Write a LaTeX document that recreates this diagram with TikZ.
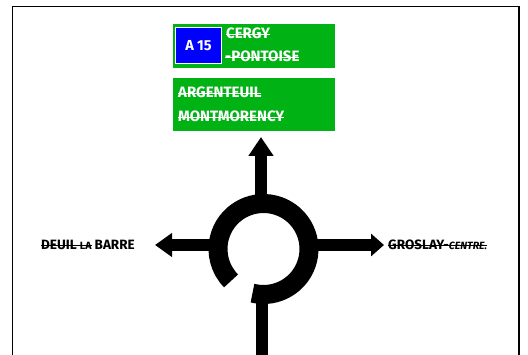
\documentclass[tikz,border=0pt]{standalone}
\usepackage{fontspec}
\setmainfont{Fira Sans}
\usetikzlibrary{arrows.meta}
\definecolor{signgreen}{RGB}{0,178,20}
\definecolor{signblue}{RGB}{0,0,255}
\newsavebox{\strkbox}
\newcommand{\strk}[1]{\sbox{\strkbox}{#1}\usebox{\strkbox}\llap{\rule[0.25em]{\wd\strkbox}{0.8pt}}}
\tikzset{
  panel/.style={fill=signgreen, draw=none, inner sep=0pt, minimum width=162pt, anchor=south west},
  signtext/.style={text=white, inner sep=0pt, anchor=base west, font=\fontsize{15}{17}\selectfont\bfseries},
  roadlabel/.style={text=black, inner sep=0pt, anchor=base west, font=\fontsize{13.5}{15}\selectfont\bfseries},
  shaft/.style={line width=12pt, line cap=butt, black},
}
\begin{document}
\begin{tikzpicture}[x=1pt,y=1pt]
\useasboundingbox (0,0) rectangle (528,354);
% frame
\draw[line width=1.5pt] (12.5,-2) -- (12.5,347.5) -- (519,347.5) -- (519,-2);
% signs
\node[panel, minimum height=44pt] (s1) at (173,286) {};
\node[panel, minimum height=53pt] (s2) at (173,223) {};
\node[fill=signblue, draw=white, line width=1pt, minimum width=46pt, minimum height=36pt, inner sep=0pt] (a15box) at (198.5,308.5) {};
\node[text=white, inner sep=0pt, anchor=base, font=\fontsize{14.5}{16}\selectfont\bfseries] (a15) at (198.5,303.3) {A 15};
\node[signtext] (cergy) at (226,315) {\strk{CERGY}};
\node[signtext] (pontoise) at (225,292) {\strk{-PONTOISE}};
\node[signtext] (argenteuil) at (178,256) {\strk{ARGENTEUIL}};
\node[signtext] (montmorency) at (178,232) {\strk{MONTMORENCY}};
% roundabout
\coordinate (c) at (263.5,105);
\draw[line width=19pt, line cap=butt] (c) ++(-104:45.5) arc[start angle=-104, end angle=224.5, radius=45.5];
% arms
\coordinate (topstart) at (261,150);
\coordinate (toptip) at (261,217);
\coordinate (botstart) at (261.5,-2);
\coordinate (botend) at (261.5,62);
\coordinate (leftstart) at (215,109);
\coordinate (lefttip) at (155,109);
\coordinate (rightstart) at (312,109);
\coordinate (righttip) at (384,109);
\draw[shaft, -{Triangle[length=19pt, width=24pt]}] (topstart) -- (toptip);
\draw[shaft] (botstart) -- (botend);
\draw[shaft, line width=11.5pt, -{Triangle[length=17pt, width=23pt]}] (leftstart) -- (lefttip);
\draw[shaft, line width=11.5pt, -{Triangle[length=13pt, width=22pt]}] (rightstart) -- (righttip);
% labels
\node[roadlabel] (deuil) at (41,104.5) {\strk{DEUIL {\fontsize{10.5}{12}\selectfont LA}} BARRE};
\node[roadlabel] (groslay) at (388,104.5) {\strk{GROSLAY-{\fontsize{10.5}{12}\selectfont\itshape CENTRE.}}};
\end{tikzpicture}
\end{document}
